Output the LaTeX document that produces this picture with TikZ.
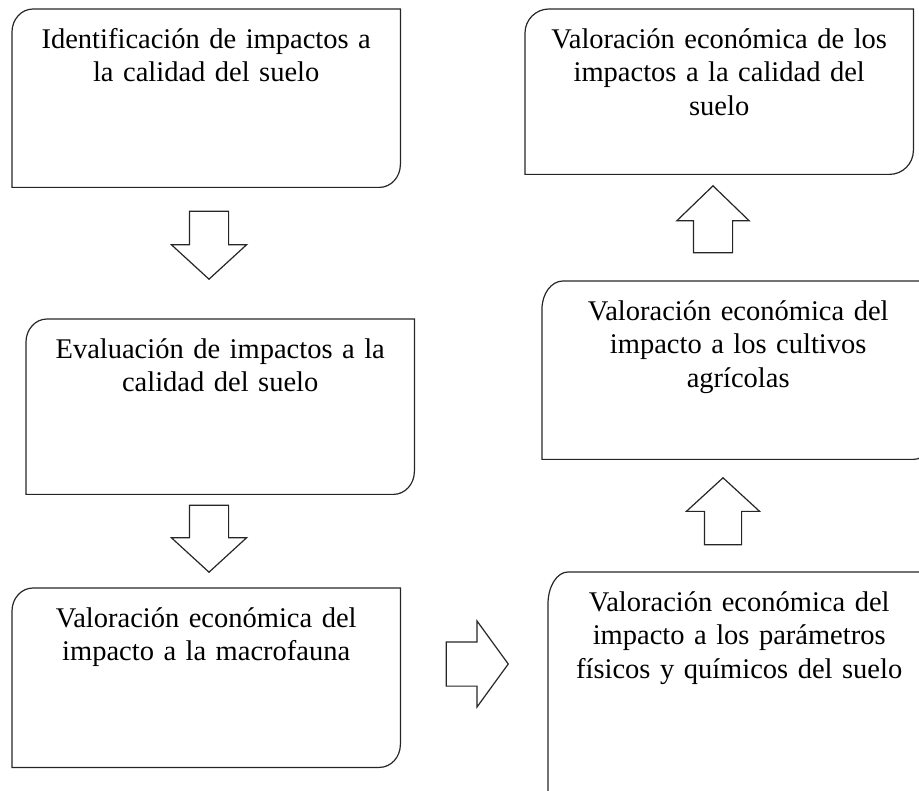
\documentclass[tikz,border=0pt]{standalone}
\usepackage{fontspec}
\setmainfont{Liberation Serif}
\usetikzlibrary{positioning}
\usetikzlibrary{shapes.arrows}

% outline with round top-left and bottom-right corners
\newcommand{\roundbox}[3]{%
  \draw[boxline] (#1.south west) -- ([yshift=-#3pt]#1.north west)
    arc[start angle=180, end angle=90, x radius=#2pt, y radius=#3pt]
    -- (#1.north east) -- ([yshift=#3pt]#1.south east)
    arc[start angle=0, end angle=-90, x radius=#2pt, y radius=#3pt] -- cycle;}

\begin{document}
\begin{tikzpicture}[x=1pt, y=1pt,
    stagebox/.style 2 args={rectangle, anchor=north west, inner sep=0pt,
        minimum width=#1pt, minimum height=#2pt},
    stagetext/.style={text width=400pt, align=center, inner sep=0pt,
        font=\fontsize{28.5}{33.5}\selectfont, execute at begin node=\strut},
    boxline/.style={draw=black!85, line width=1.2pt},
    blockarrow/.style={single arrow, draw=black!85, line width=1.2pt, fill=white,
        inner xsep=0pt, inner ysep=19pt, minimum width=0pt, minimum height=67pt,
        single arrow head extend=18pt, single arrow tip angle=95, anchor=tip},
  ]
  \useasboundingbox (0,0) rectangle (919,-791);

  \node at (12,-9) (ident) [stagebox={388}{178}] {};
  \node at (26,-319) (eval) [stagebox={388}{175}] {};
  \node at (12,-588) (macro) [stagebox={388}{179}] {};
  \node at (548,-572) (param) [stagebox={382}{330}] {};
  \node at (542,-281) (cultivos) [stagebox={392}{178}] {};
  \node at (525,-9) (valsuelo) [stagebox={388}{165}] {};

  \roundbox{ident}{21}{23}
  \roundbox{eval}{21}{23}
  \roundbox{macro}{21}{23}
  \roundbox{param}{20}{32}
  \roundbox{cultivos}{21}{28}
  \roundbox{valsuelo}{24}{24}

  \node (ident-t) [stagetext, below=15.5pt of ident.north]
    {Identificación de impactos a\\la calidad del suelo};
  \node (eval-t) [stagetext, below=15.5pt of eval.north]
    {Evaluación de impactos a la\\calidad del suelo};
  \node (macro-t) [stagetext, below=15.5pt of macro.north]
    {Valoración económica del\\impacto a la macrofauna};
  \node (param-t) [stagetext, below=15.5pt of param.north]
    {Valoración económica del\\impacto a los parámetros\\físicos y químicos del suelo};
  \node (cultivos-t) [stagetext, below=15.5pt of cultivos.north]
    {Valoración económica del\\impacto a los cultivos\\agrícolas};
  \node (valsuelo-t) [stagetext, below=15.5pt of valsuelo.north]
    {Valoración económica de los\\impactos a la calidad del\\suelo};

  \node at (209,-280) (down1) [blockarrow, rotate=-90, minimum height=68pt] {};
  \node at (209,-573) (down2) [blockarrow, rotate=-90] {};
  \node at (509,-664) (right1) [blockarrow, inner ysep=21.5pt, minimum height=62pt,
    single arrow head extend=21pt, single arrow tip angle=108] {};
  \node at (723,-477) (up1) [blockarrow, rotate=90, inner ysep=18pt] {};
  \node at (713,-185) (up2) [blockarrow, rotate=90,
    single arrow head extend=16.5pt, single arrow tip angle=92] {};
\end{tikzpicture}
\end{document}
